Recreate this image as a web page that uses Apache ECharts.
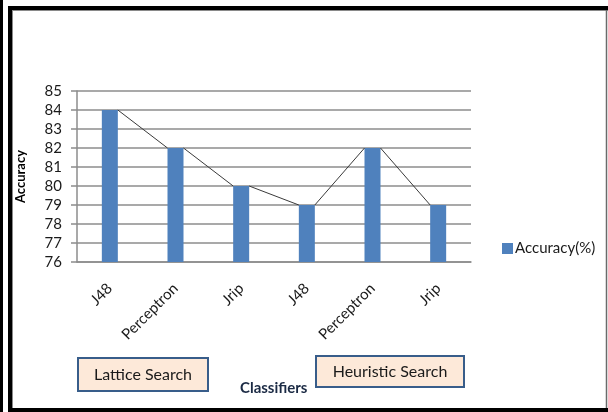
<!DOCTYPE html>
<html>
<head>
<meta charset="utf-8">
<script src="https://cdn.jsdelivr.net/npm/echarts@6/dist/echarts.min.js"></script>
<style>
  html, body { margin: 0; padding: 0; background: #ffffff; }
  #chart { width: 608px; height: 412px; }
</style>
</head>
<body>
<div id="chart"></div>
<script>
// Classifier accuracy under two attribute-search strategies
const classifiers = ['J48', 'Perceptron', 'Jrip', 'J48', 'Perceptron', 'Jrip'];
const accuracy = [84, 82, 80, 79, 82, 79];
const yTicks = [76, 77, 78, 79, 80, 81, 82, 83, 84, 85];
const groupLabels = ['Lattice Search', 'Heuristic Search'];
const seriesName = 'Accuracy(%)';

const FONT = 'Lato, "Open Sans", sans-serif';
const BAR_W = 16;

const chart = echarts.init(document.getElementById('chart'), null, { renderer: 'canvas' });

chart.setOption({
  animation: false,
  backgroundColor: '#ffffff',
  grid: { left: 77, right: 137, top: 91, bottom: 150 },
  legend: {
    data: [seriesName],
    left: 497, top: 236,
    icon: 'rect', itemWidth: 11, itemHeight: 11, itemGap: 4,
    textStyle: { fontFamily: FONT, fontSize: 15, color: '#1a1a1a', padding: [0, 0, 0, -3] }
  },
  xAxis: {
    type: 'category',
    data: classifiers,
    boundaryGap: true,
    axisLine: { lineStyle: { color: '#8c8c8c', width: 1.5 } },
    axisTick: { show: false },
    axisLabel: {
      rotate: 45, margin: 24, interval: 0,
      fontFamily: FONT, fontSize: 15, color: '#1a1a1a'
    }
  },
  yAxis: {
    type: 'value',
    min: yTicks[0], max: yTicks[yTicks.length - 1], interval: 1,
    name: 'Accuracy', nameLocation: 'middle', nameGap: 50, nameRotate: 90,
    nameTextStyle: { fontFamily: FONT, fontSize: 13, fontWeight: 'bold', color: '#000000' },
    axisLine: { show: true, lineStyle: { color: '#8c8c8c', width: 1.5 } },
    axisTick: { show: true, length: 6, lineStyle: { color: '#8c8c8c', width: 1.5 } },
    axisLabel: { margin: 15, fontFamily: FONT, fontSize: 15, color: '#1a1a1a' },
    splitLine: { lineStyle: { color: '#8c8c8c', width: 1.5 } }
  },
  series: [
    {
      name: seriesName,
      type: 'bar',
      data: accuracy,
      barWidth: BAR_W,
      itemStyle: { color: '#4F81BD' },
      z: 3
    },
    {
      // series lines joining the right edge of each bar top to the left edge of the next
      name: 'connectors',
      type: 'custom',
      data: accuracy.map((v, i) => [i, v]),
      encode: { x: 0, y: 1 },
      silent: true,
      z: 4,
      renderItem: function (params, api) {
        const i = params.dataIndex;
        if (i >= accuracy.length - 1) return null;
        const p0 = api.coord([i, accuracy[i]]);
        const p1 = api.coord([i + 1, accuracy[i + 1]]);
        return {
          type: 'line',
          shape: { x1: p0[0] + BAR_W / 2, y1: p0[1], x2: p1[0] - BAR_W / 2, y2: p1[1] },
          style: { stroke: '#3a3a3a', lineWidth: 1 }
        };
      }
    }
  ],
  graphic: [
    // outer frame
    { type: 'rect', shape: { x: 0, y: 0, width: 3, height: 412 }, style: { fill: '#000' }, z: 100 },
    { type: 'rect', shape: { x: 8, y: 6, width: 600, height: 4 }, style: { fill: '#000' }, z: 100 },
    { type: 'rect', shape: { x: 8, y: 6, width: 4, height: 406 }, style: { fill: '#000' }, z: 100 },
    { type: 'rect', shape: { x: 8, y: 408, width: 600, height: 4 }, style: { fill: '#000' }, z: 100 },
    { type: 'line', shape: { x1: 12.5, y1: 10, x2: 12.5, y2: 408 }, style: { stroke: '#8a8a8a', lineWidth: 1 }, z: 100 },
    { type: 'line', shape: { x1: 12, y1: 10.5, x2: 608, y2: 10.5 }, style: { stroke: '#8a8a8a', lineWidth: 1 }, z: 100 },
    { type: 'line', shape: { x1: 606.5, y1: 10, x2: 606.5, y2: 408 }, style: { stroke: '#6a6a6a', lineWidth: 1.5 }, z: 100 },
    // x-axis title (lower part hidden beneath the frame margin)
    {
      type: 'text', left: 240, top: 381, z: 50,
      style: { text: 'Classifiers', fontFamily: FONT, fontSize: 15, fontWeight: 'bold', fill: '#1b2a44' }
    },
    { type: 'rect', shape: { x: 13, y: 401, width: 592, height: 7 }, style: { fill: '#ffffff' }, z: 60 },
    // group captions
    {
      type: 'group', left: 77, top: 357, z: 70,
      children: [
        { type: 'rect', shape: { x: 0, y: 0, width: 130, height: 33 }, style: { fill: '#FDE9D9', stroke: '#385D8A', lineWidth: 2 } },
        { type: 'text', x: 65, y: 17, style: { text: groupLabels[0], fontFamily: FONT, fontSize: 16, fill: '#1a1a1a', align: 'center', verticalAlign: 'middle' } }
      ]
    },
    {
      type: 'group', left: 315, top: 355, z: 70,
      children: [
        { type: 'rect', shape: { x: 0, y: 0, width: 148, height: 31 }, style: { fill: '#FDE9D9', stroke: '#385D8A', lineWidth: 2 } },
        { type: 'text', x: 74, y: 16, style: { text: groupLabels[1], fontFamily: FONT, fontSize: 16, fill: '#1a1a1a', align: 'center', verticalAlign: 'middle' } }
      ]
    }
  ]
});
</script>
</body>
</html>
